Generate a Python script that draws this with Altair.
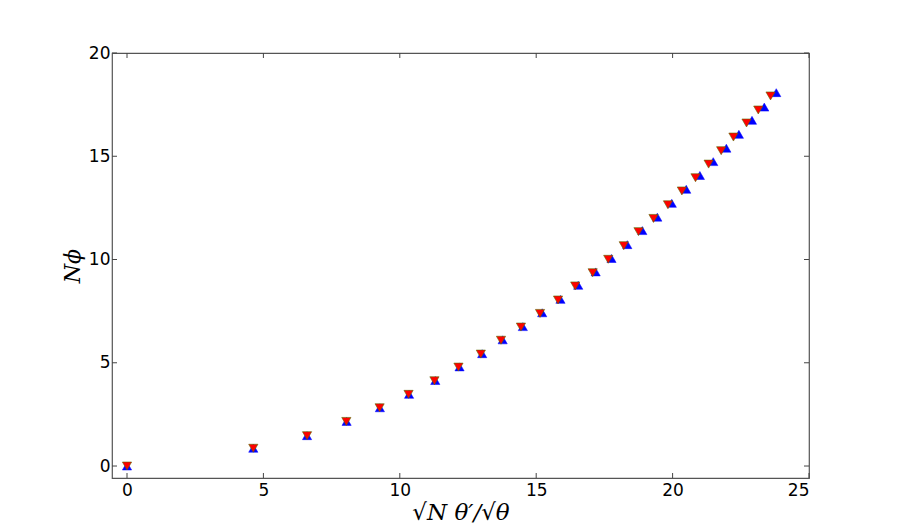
import altair as alt
import pandas as pd

# red (triangle-down) series
red_x = [0, 4.63, 6.60, 8.04, 9.26, 10.32, 11.27, 12.15, 12.97, 13.71, 14.44, 15.14, 15.80, 16.43,
         17.07, 17.64, 18.21, 18.75, 19.30, 19.83, 20.34, 20.84, 21.32, 21.78, 22.23, 22.71, 23.14, 23.59]
red_y = [0, 0.86, 1.47, 2.16, 2.82, 3.47, 4.13, 4.79, 5.42, 6.09, 6.73, 7.39, 8.04, 8.72,
         9.36, 10.01, 10.67, 11.35, 11.99, 12.65, 13.32, 13.96, 14.62, 15.27, 15.93, 16.61, 17.24, 17.92]

# blue (triangle-up) series
blue_x = [0, 4.63, 6.60, 8.05, 9.27, 10.34, 11.30, 12.19, 13.02, 13.77, 14.51, 15.22, 15.89, 16.54,
          17.18, 17.76, 18.34, 18.89, 19.44, 19.97, 20.50, 21.00, 21.49, 21.97, 22.43, 22.91, 23.36, 23.80]
blue_y = [0, 0.86, 1.47, 2.16, 2.82, 3.47, 4.14, 4.80, 5.44, 6.11, 6.75, 7.42, 8.07, 8.75,
          9.40, 10.05, 10.72, 11.40, 12.05, 12.72, 13.40, 14.07, 14.74, 15.39, 16.06, 16.74, 17.38, 18.08]

x_ticks = [0, 5, 10, 15, 20, 25]
y_ticks = [0, 5, 10, 15, 20]

W, H = 697, 425
x_dom = [-0.55, 25]
y_dom = [-0.58, 20]

red_df = pd.DataFrame({"x": red_x, "y": red_y})
blue_df = pd.DataFrame({"x": blue_x, "y": blue_y})
xt_df = pd.DataFrame({"x": x_ticks})
yt_df = pd.DataFrame({"y": y_ticks})

xscale = alt.Scale(domain=x_dom, nice=False, zero=False)
yscale = alt.Scale(domain=y_dom, nice=False, zero=False)

xaxis = alt.Axis(values=x_ticks, ticks=False, domain=False, grid=False,
                 labelFont="DejaVu Sans", labelFontSize=17, labelColor="black",
                 labelPadding=4, title="√N θ′/√θ", titleFont="DejaVu Serif",
                 titleFontStyle="italic", titleFontWeight="normal", titleFontSize=23,
                 titleColor="black", titlePadding=3)
yaxis = alt.Axis(values=y_ticks, ticks=False, domain=False, grid=False,
                 labelFont="DejaVu Sans", labelFontSize=17, labelColor="black",
                 labelPadding=2, title="Nϕ", titleFont="DejaVu Serif",
                 titleFontStyle="italic", titleFontWeight="normal", titleFontSize=22,
                 titleColor="black", titlePadding=4)

blue = alt.Chart(blue_df).mark_point(shape="triangle-up", filled=True, size=85,
                                     color="#0000ff", stroke="#0000ff", strokeWidth=0.5,
                                     opacity=1).encode(
    x=alt.X("x:Q", scale=xscale, axis=xaxis),
    y=alt.Y("y:Q", scale=yscale, axis=yaxis),
)
red = alt.Chart(red_df).mark_point(shape="triangle-down", filled=True, size=85,
                                   fill="#ff0000", stroke="#5a6a00", strokeWidth=0.6,
                                   opacity=1).encode(
    x=alt.X("x:Q", scale=xscale),
    y=alt.Y("y:Q", scale=yscale),
)

tick_color = "#444444"
tl = 5
xt_bot = alt.Chart(xt_df).mark_rule(color=tick_color, strokeWidth=1).encode(
    x=alt.X("x:Q", scale=xscale), y=alt.value(H), y2=alt.value(H - tl))
xt_top = alt.Chart(xt_df).mark_rule(color=tick_color, strokeWidth=1).encode(
    x=alt.X("x:Q", scale=xscale), y=alt.value(0), y2=alt.value(tl))
yt_left = alt.Chart(yt_df).mark_rule(color=tick_color, strokeWidth=1).encode(
    y=alt.Y("y:Q", scale=yscale), x=alt.value(0), x2=alt.value(tl))
yt_right = alt.Chart(yt_df).mark_rule(color=tick_color, strokeWidth=1).encode(
    y=alt.Y("y:Q", scale=yscale), x=alt.value(W - tl), x2=alt.value(W))

chart = alt.layer(blue, red, xt_bot, xt_top, yt_left, yt_right).properties(
    width=W, height=H,
    autosize=alt.AutoSizeParams(type="none"),
    padding={"left": 104, "top": 45, "right": 83, "bottom": 45},
    background="white",
).configure_view(stroke="#555555", strokeWidth=1.2)

chart.save("out.html", embed_options={"renderer": "svg", "actions": False})
